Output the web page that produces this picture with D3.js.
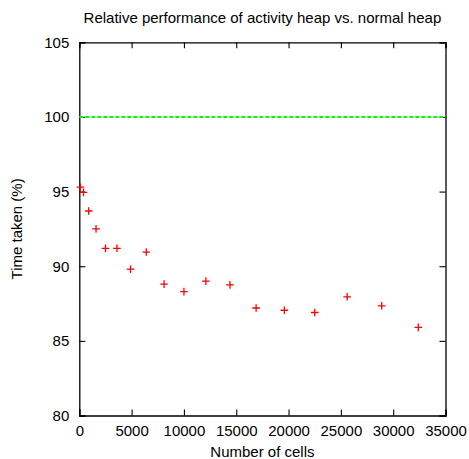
<!DOCTYPE html>
<html>
<head>
<meta charset="utf-8">
<script src="https://cdn.jsdelivr.net/npm/d3@7"></script>
<style>
  html, body { margin: 0; padding: 0; background: #fff; }
  svg text { font-family: "Liberation Sans", Arial, sans-serif; fill: #000; }
</style>
</head>
<body>
<div id="chart"></div>
<script>
// data
const cells = [100, 400, 900, 1600, 2500, 3600, 4900, 6400, 8100, 10000,
               12100, 14400, 16900, 19600, 22500, 25600, 28900, 32400];
const timeTaken = [95.3, 94.95, 93.7, 92.5, 91.2, 91.2, 89.8, 90.95, 88.8, 88.3,
                   89.0, 88.75, 87.2, 87.05, 86.9, 87.95, 87.35, 85.9];
const baseline = [100];
const xTicks = [0, 5000, 10000, 15000, 20000, 25000, 30000, 35000];
const yTicks = [80, 85, 90, 95, 100, 105];

const W = 469, H = 459;
const margin = {top: 42.3, right: 23.5, bottom: 43.5, left: 79.3};
const width = W - margin.left - margin.right;
const height = H - margin.top - margin.bottom;

const svg = d3.select("#chart").append("svg")
    .attr("width", W)
    .attr("height", H);

const g = svg.append("g")
    .attr("transform", `translate(${margin.left},${margin.top})`);

const x = d3.scaleLinear().domain([0, 35000]).range([0, width]);
const y = d3.scaleLinear().domain([80, 105]).range([height, 0]);

const tickLen = 6;

// axes, gnuplot style: inward ticks, mirrored on top / right
g.append("g")
    .attr("transform", `translate(0,${height})`)
    .call(d3.axisBottom(x).tickValues(xTicks).tickSize(-tickLen).tickPadding(10).tickFormat(d3.format("d")))
    .call(a => a.selectAll("text").attr("font-size", "15px"));

g.append("g")
    .call(d3.axisTop(x).tickValues(xTicks).tickSize(-tickLen).tickFormat(""));

g.append("g")
    .call(d3.axisLeft(y).tickValues(yTicks).tickSize(-tickLen).tickPadding(10))
    .call(a => a.selectAll("text").attr("font-size", "15px"));

g.append("g")
    .attr("transform", `translate(${width},0)`)
    .call(d3.axisRight(y).tickValues(yTicks).tickSize(-tickLen).tickFormat(""));

g.selectAll(".domain").attr("stroke", "#000").attr("stroke-width", 1.3);
g.selectAll(".tick line").attr("stroke", "#000").attr("stroke-width", 1.1);

// reference line at 100%
g.selectAll(".ref")
    .data(baseline)
    .join("line")
    .attr("class", "ref")
    .attr("x1", 0)
    .attr("x2", width)
    .attr("y1", d => y(d))
    .attr("y2", d => y(d))
    .attr("stroke", "#00ff00")
    .attr("stroke-width", 2)
    .attr("stroke-dasharray", "4,2");

// points as "+" markers
const pts = cells.map((c, i) => ({c, v: timeTaken[i]}));
const s = 3.8;
g.selectAll(".pt")
    .data(pts)
    .join("path")
    .attr("class", "pt")
    .attr("transform", d => `translate(${x(d.c)},${y(d.v)})`)
    .attr("d", `M${-s},0H${s}M0,${-s}V${s}`)
    .attr("stroke", "#ff0000")
    .attr("stroke-width", 1.3)
    .attr("fill", "none");

// title and labels
svg.append("text")
    .attr("x", margin.left + width / 2)
    .attr("y", 22.5)
    .attr("text-anchor", "middle")
    .attr("font-size", "15px")
    .text("Relative performance of activity heap vs. normal heap");

svg.append("text")
    .attr("x", margin.left + width / 2)
    .attr("y", 457)
    .attr("text-anchor", "middle")
    .attr("font-size", "15px")
    .text("Number of cells");

svg.append("text")
    .attr("transform", `translate(22,${margin.top + height / 2}) rotate(-90)`)
    .attr("text-anchor", "middle")
    .attr("font-size", "15px")
    .text("Time taken (%)");
</script>
</body>
</html>
